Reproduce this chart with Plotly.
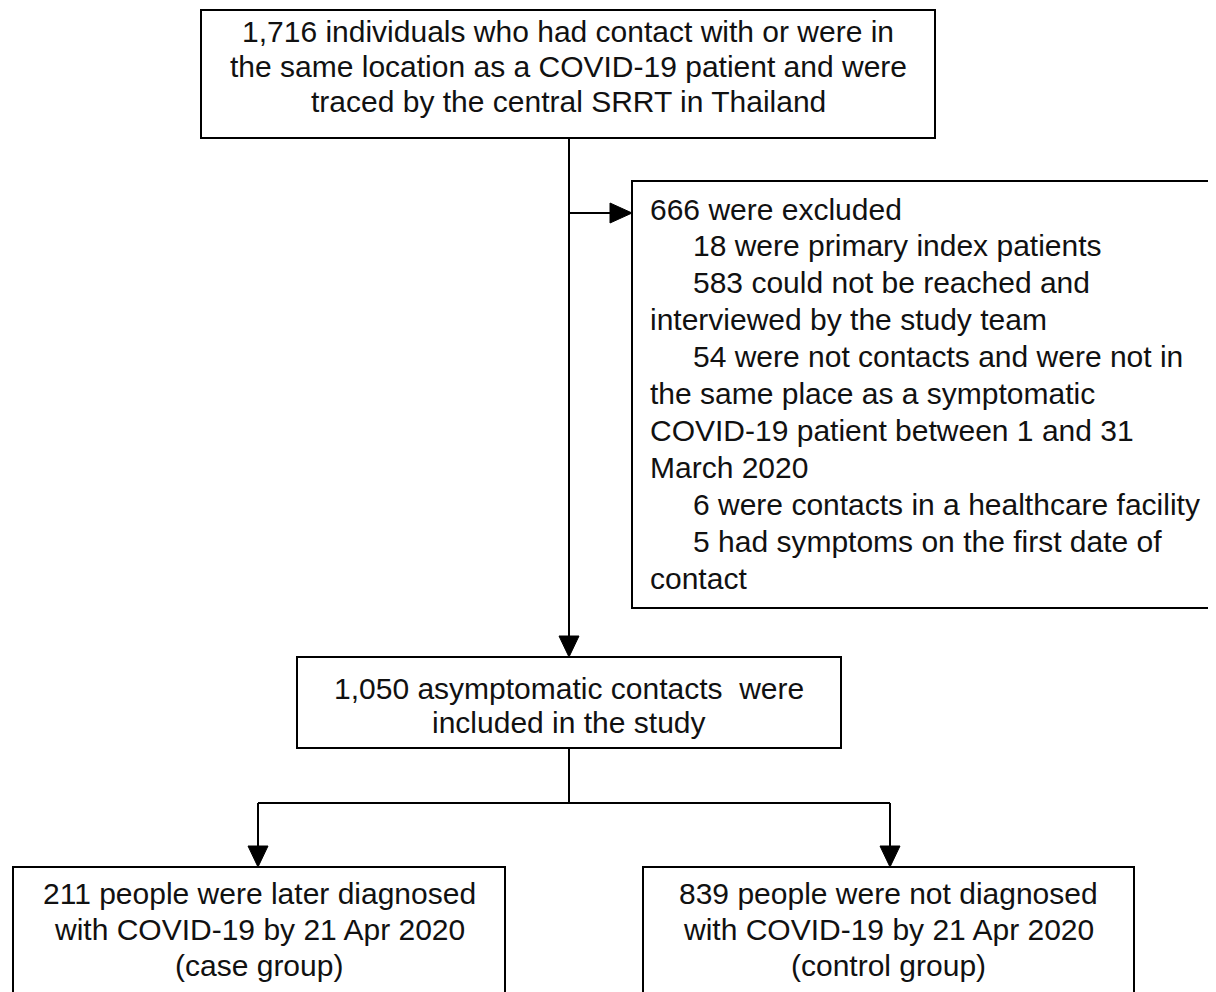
import plotly.graph_objects as go

# The page body has an 8px margin; the figure starts at page pixel (8, 8)
PAGE_W, PAGE_H, OFF = 1216, 992, 8

# ---- data (text content of the flow chart) ----
top_lines = [
    "1,716 individuals who had contact with or were in",
    "the same location as a COVID-19 patient and were",
    "traced by the central SRRT in Thailand",
]
excluded_lines = [
    "666 were excluded",
    "18 were primary index patients",
    "583 could not be reached and",
    "interviewed by the study team",
    "54 were not contacts and were not in",
    "the same place as a symptomatic",
    "COVID-19 patient between 1 and 31",
    "March 2020",
    "6 were contacts in a healthcare facility",
    "5 had symptoms on the first date of",
    "contact",
]
excluded_indent = [0, 1, 1, 0, 1, 0, 0, 0, 1, 1, 0]
included_lines = [
    "1,050 asymptomatic contacts  were",
    "included in the study",
]
case_lines = [
    "211 people were later diagnosed",
    "with COVID-19 by 21 Apr 2020",
    "(case group)",
]
control_lines = [
    "839 people were not diagnosed",
    "with COVID-19 by 21 Apr 2020",
    "(control group)",
]

# ---- layout geometry ----
FONT = dict(family="Liberation Sans, Arial, sans-serif", size=30, color="#111111")
LW = 2
boxes = {
    "top": (201, 10, 935, 138),
    "excl": (632, 181, 1240, 608),
    "incl": (297, 657, 841, 748),
    "case": (13, 867, 505, 1010),
    "ctrl": (643, 867, 1134, 1010),
}

fig = go.Figure()
shapes = []
annotations = []

for (x0, y0, x1, y1) in boxes.values():
    shapes.append(dict(type="rect", x0=x0, y0=y0, x1=x1, y1=y1, xref="x", yref="y",
                       line=dict(color="black", width=LW), fillcolor="rgba(0,0,0,0)"))

def line(x0, y0, x1, y1):
    shapes.append(dict(type="line", x0=x0, y0=y0, x1=x1, y1=y1, xref="x", yref="y",
                       line=dict(color="black", width=LW)))

def arrow_down(x, tip):
    shapes.append(dict(type="path", xref="x", yref="y",
                       path=f"M {x-10} {tip-21} L {x+10} {tip-21} L {x} {tip} Z",
                       fillcolor="black", line=dict(color="black", width=1)))

def arrow_right(tip, y):
    shapes.append(dict(type="path", xref="x", yref="y",
                       path=f"M {tip-22} {y-10} L {tip-22} {y+10} L {tip} {y} Z",
                       fillcolor="black", line=dict(color="black", width=1)))

cx = 569
line(cx, 138, cx, 640)
arrow_down(cx, 657)
line(cx, 213, 612, 213)
arrow_right(632, 213)
line(cx, 748, cx, 803)
line(258, 803, 890, 803)
line(258, 803, 258, 850)
arrow_down(258, 867)
line(890, 803, 890, 850)
arrow_down(890, 867)

def add_text(lines, x, ys, anchor="center", xs=None):
    for i, (t, y) in enumerate(zip(lines, ys)):
        annotations.append(dict(text=t, x=(xs[i] if xs else x), y=y, xref="x", yref="y",
                                showarrow=False, xanchor=anchor, yanchor="middle",
                                font=FONT))

add_text(top_lines, 568, [31, 66, 101])
ex_y = [209 + 36.9 * i for i in range(len(excluded_lines))]
ex_x = [691 if ind else 648 for ind in excluded_indent]
add_text(excluded_lines, None, ex_y, anchor="left", xs=ex_x)
add_text(included_lines, 569, [688, 722])
add_text(case_lines, 259, [893, 929, 965])
add_text(control_lines, 888, [893, 929, 965])

fig_h = PAGE_H - OFF
fig.update_layout(
    width=PAGE_W - OFF, height=fig_h,
    margin=dict(l=0, r=0, t=0, b=0),
    paper_bgcolor="white", plot_bgcolor="white",
    xaxis=dict(range=[OFF, PAGE_W], visible=False, fixedrange=True),
    yaxis=dict(range=[OFF + fig_h, OFF], visible=False, fixedrange=True),
    shapes=shapes, annotations=annotations, showlegend=False,
)
fig.write_html("out.html")
